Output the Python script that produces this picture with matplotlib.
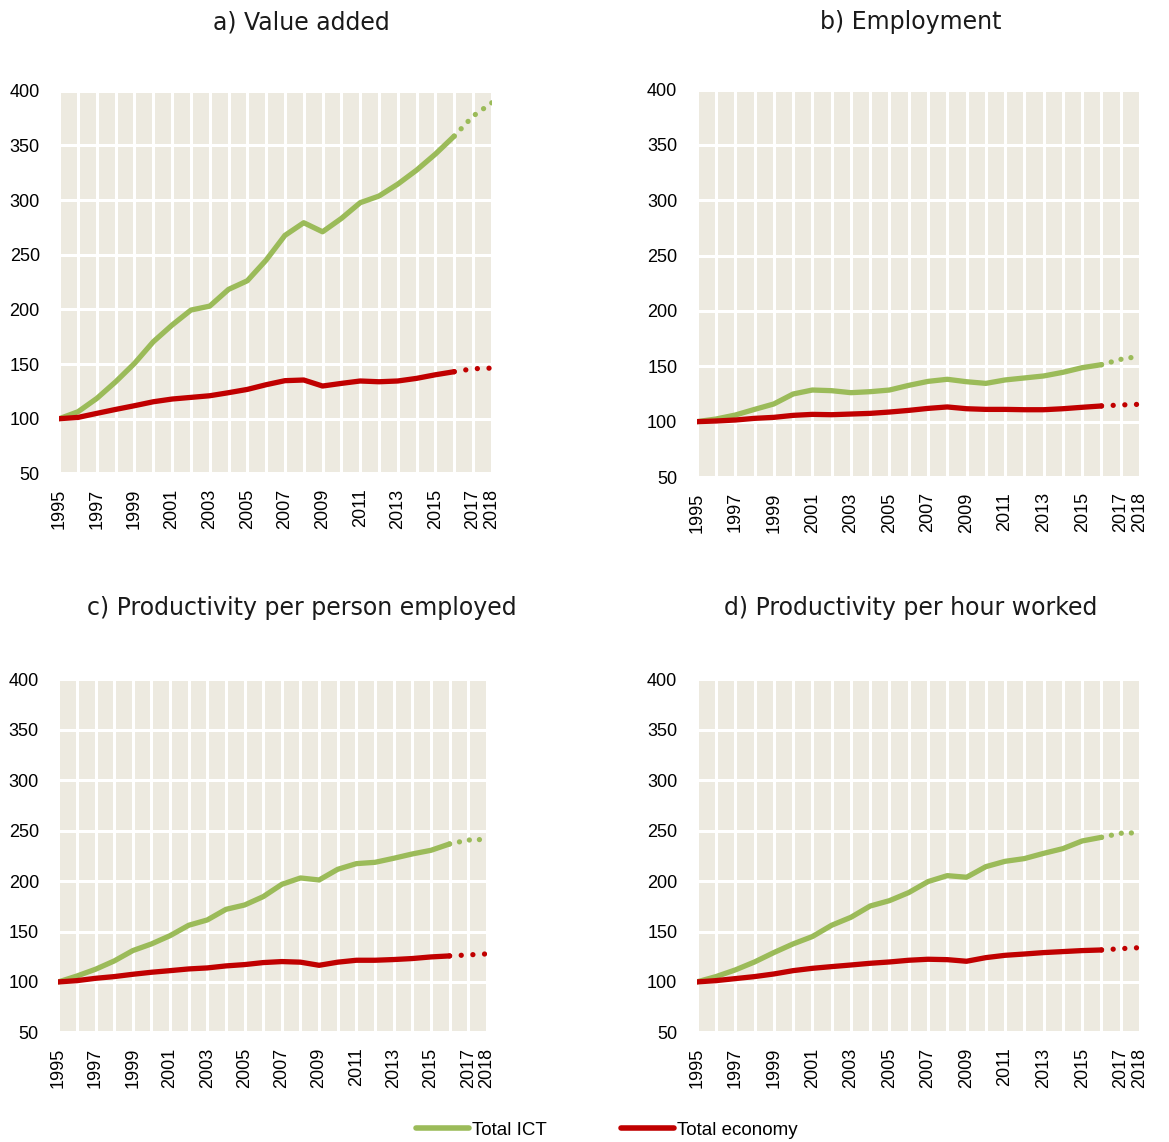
import numpy as np
import matplotlib.pyplot as plt
from matplotlib.lines import Line2D

years = np.arange(1995, 2019)

# index 1995 = 100, values 1995-2016 observed, 2017-2018 estimates
value_added_ict = [100, 106.4, 118.6, 133.8, 150.6, 170.4, 185.7, 199.4, 203, 218.3, 226.2, 245.1,
                   267.7, 279.3, 271, 283.2, 297.6, 303.7, 314.6, 327.4, 342.1, 358.5, 376.8, 389]
value_added_total = [100, 101.2, 104.9, 108.5, 111.9, 115.5, 118, 119.5, 121, 123.8, 126.8, 131.1,
                     134.8, 135.4, 129.9, 132.3, 134.5, 133.8, 134.5, 136.9, 140.2, 143, 145.7, 146.3]

employment_ict = [100, 102.4, 106, 111.1, 116, 125, 128.6, 128, 126.2, 127.1, 128.6, 132.8,
                  136.4, 138.3, 136.1, 134.6, 137.7, 139.5, 141.3, 144.6, 148.8, 151.5, 156.3, 159.3]
employment_total = [100, 100.6, 101.5, 103, 103.9, 105.7, 106.6, 106.3, 106.9, 107.5, 108.7, 110.2,
                    112, 113.3, 111.7, 111.1, 111.1, 110.8, 110.8, 111.7, 113, 114.2, 115.1, 115.7]

prod_person_ict = [100, 105.9, 112.6, 120.8, 131.1, 137.7, 145.9, 156.2, 161.5, 172, 176.3, 184.6,
                   196.8, 203.1, 201.1, 211.7, 217.3, 218.6, 222.6, 226.9, 230.5, 236.8, 240.7, 241.4]
prod_person_total = [100, 101.3, 103.6, 105.3, 107.6, 109.6, 111.2, 112.9, 113.9, 115.9, 117.2, 119.2,
                     120.2, 119.6, 116.5, 119.6, 121.5, 121.5, 122.2, 123.2, 124.8, 125.8, 126.8, 127.8]

prod_hour_ict = [100, 105.3, 111.9, 119.8, 129.1, 137.7, 145, 156.2, 164.1, 175.3, 180.6, 188.6,
                 199.5, 205.4, 203.8, 214.3, 219.6, 222.3, 227.5, 232.2, 239.8, 243.4, 247.4, 248]
prod_hour_total = [100, 101.3, 103.3, 105.3, 107.9, 111.2, 113.5, 115.2, 116.8, 118.5, 119.8, 121.5,
                   122.5, 122.1, 120.5, 124.1, 126.4, 127.7, 129.1, 130.1, 131.1, 131.7, 133, 134]

titles = ["a) Value added", "b) Employment",
          "c) Productivity per person employed", "d) Productivity per hour worked"]
xtick_years = [1995, 1997, 1999, 2001, 2003, 2005, 2007, 2009, 2011, 2013, 2015, 2017, 2018]

GREEN = "#9BBB59"
RED = "#C00000"
BG = "#EDEAE0"
TICK_FONT = "Liberation Sans"
LAST_OBS = 2016

panels = [
    (value_added_ict, value_added_total, [0.0507, 0.5855, 0.3700, 0.3350], (0.258, 0.9743)),
    (employment_ict, employment_total, [0.5960, 0.5823, 0.3792, 0.3392], (0.779, 0.9743)),
    (prod_person_ict, prod_person_total, [0.0499, 0.0960, 0.3665, 0.3091], (0.258, 0.4612)),
    (prod_hour_ict, prod_hour_total, [0.5960, 0.0960, 0.3792, 0.3091], (0.779, 0.4612)),
]

fig = plt.figure(figsize=(11.69, 11.42), dpi=100)

for (ict, total, rect, title_pos), title in zip(panels, titles):
    ax = fig.add_axes(rect)
    ax.set_facecolor(BG)
    ict = np.array(ict)
    total = np.array(total)
    solid = years <= LAST_OBS
    est = years >= LAST_OBS

    ax.plot(years[solid], ict[solid], color=GREEN, linewidth=3.8,
            solid_capstyle="round", solid_joinstyle="round", zorder=3)
    ax.plot(years[solid], total[solid], color=RED, linewidth=3.8,
            solid_capstyle="round", solid_joinstyle="round", zorder=3)
    ax.plot(years[est], ict[est], color=GREEN, linewidth=3.8,
            linestyle=(1.9, (0.01, 1.9)), dash_capstyle="round", zorder=3)
    ax.plot(years[est], total[est], color=RED, linewidth=3.8,
            linestyle=(2.2, (0.01, 2.2)), dash_capstyle="round", zorder=3)

    ax.set_xlim(1995, 2018)
    ax.set_ylim(50, 400)
    ax.set_yticks(np.arange(50, 401, 50))
    ax.set_xticks(years, minor=True)
    ax.set_xticks(xtick_years)
    ax.set_xticklabels([str(y) for y in xtick_years], rotation=90,
                       fontsize=13, family=TICK_FONT)
    for lab in ax.get_yticklabels():
        lab.set_fontsize(13)
        lab.set_family(TICK_FONT)
    ax.grid(True, which="both", axis="x", color="white", linewidth=2.2)
    ax.grid(True, which="major", axis="y", color="white", linewidth=2.2)
    ax.set_axisbelow(True)
    ax.tick_params(axis="both", which="both", length=0)
    ax.tick_params(axis="y", pad=14)
    ax.tick_params(axis="x", pad=11)
    for sp in ax.spines.values():
        sp.set_visible(False)

    fig.text(title_pos[0], title_pos[1], title, ha="center", va="baseline",
             fontsize=17, family="DejaVu Sans", color="#1a1a1a")

handles = [Line2D([], [], color=GREEN, linewidth=4, solid_capstyle="round"),
           Line2D([], [], color=RED, linewidth=4, solid_capstyle="round")]
fig.legend(handles, ["Total ICT", "Total economy"], loc="center",
           bbox_to_anchor=(0.519, 0.0105), ncol=2, frameon=False,
           prop={"family": TICK_FONT, "size": 13.5},
           handlelength=2.8, handletextpad=0.15, columnspacing=4.0)

fig.savefig("out.png", dpi=100)
